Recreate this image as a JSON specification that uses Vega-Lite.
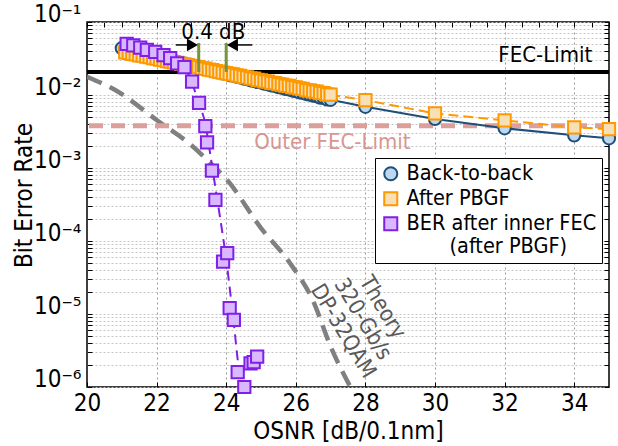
{
  "$schema": "https://vega.github.io/schema/vega-lite/v6.json",
  "width": 522,
  "height": 365,
  "autosize": {"type": "none"},
  "padding": {"left": 87, "top": 22, "right": 9, "bottom": 59},
  "background": "white",
  "config": {
    "font": "DejaVu Sans Condensed, DejaVu Sans",
    "view": {"stroke": "black", "strokeWidth": 1.5},
    "axis": {"labelColor": "black", "titleColor": "black", "titleFontWeight": "normal", "tickColor": "black", "labelOverlap": false, "labelFlush": false, "domain": false}
  },
  "datasets": {
    "pts": [
      {"s": "Back-to-back", "x": 21.0, "y": 0.0437}, {"s": "Back-to-back", "x": 21.1, "y": 0.0424}, {"s": "Back-to-back", "x": 21.2, "y": 0.0415}, {"s": "Back-to-back", "x": 21.3, "y": 0.0402}, {"s": "Back-to-back", "x": 21.4, "y": 0.0393}, {"s": "Back-to-back", "x": 21.5, "y": 0.038}, {"s": "Back-to-back", "x": 21.6, "y": 0.0372}, {"s": "Back-to-back", "x": 21.7, "y": 0.036}, {"s": "Back-to-back", "x": 21.8, "y": 0.0352}, {"s": "Back-to-back", "x": 21.9, "y": 0.0341},
      {"s": "Back-to-back", "x": 22.0, "y": 0.0334}, {"s": "Back-to-back", "x": 22.1, "y": 0.0323}, {"s": "Back-to-back", "x": 22.2, "y": 0.0316}, {"s": "Back-to-back", "x": 22.3, "y": 0.0306}, {"s": "Back-to-back", "x": 22.4, "y": 0.0299}, {"s": "Back-to-back", "x": 22.5, "y": 0.029}, {"s": "Back-to-back", "x": 22.6, "y": 0.0284}, {"s": "Back-to-back", "x": 22.7, "y": 0.0274}, {"s": "Back-to-back", "x": 22.8, "y": 0.0269}, {"s": "Back-to-back", "x": 22.9, "y": 0.026},
      {"s": "Back-to-back", "x": 23.0, "y": 0.0255}, {"s": "Back-to-back", "x": 23.1, "y": 0.0246}, {"s": "Back-to-back", "x": 23.2, "y": 0.0241}, {"s": "Back-to-back", "x": 23.3, "y": 0.0233}, {"s": "Back-to-back", "x": 23.4, "y": 0.0228}, {"s": "Back-to-back", "x": 23.5, "y": 0.0221}, {"s": "Back-to-back", "x": 23.6, "y": 0.0216}, {"s": "Back-to-back", "x": 23.7, "y": 0.0209}, {"s": "Back-to-back", "x": 23.8, "y": 0.0205}, {"s": "Back-to-back", "x": 23.9, "y": 0.0198},
      {"s": "Back-to-back", "x": 24.0, "y": 0.0194}, {"s": "Back-to-back", "x": 24.1, "y": 0.0187}, {"s": "Back-to-back", "x": 24.2, "y": 0.0184}, {"s": "Back-to-back", "x": 24.3, "y": 0.0178}, {"s": "Back-to-back", "x": 24.4, "y": 0.0174}, {"s": "Back-to-back", "x": 24.5, "y": 0.0168}, {"s": "Back-to-back", "x": 24.6, "y": 0.0165}, {"s": "Back-to-back", "x": 24.7, "y": 0.0159}, {"s": "Back-to-back", "x": 24.8, "y": 0.0156}, {"s": "Back-to-back", "x": 24.9, "y": 0.0151},
      {"s": "Back-to-back", "x": 25.0, "y": 0.0148}, {"s": "Back-to-back", "x": 25.1, "y": 0.0143}, {"s": "Back-to-back", "x": 25.2, "y": 0.014}, {"s": "Back-to-back", "x": 25.3, "y": 0.0135}, {"s": "Back-to-back", "x": 25.4, "y": 0.0133}, {"s": "Back-to-back", "x": 25.5, "y": 0.0128}, {"s": "Back-to-back", "x": 25.6, "y": 0.0126}, {"s": "Back-to-back", "x": 25.7, "y": 0.0121}, {"s": "Back-to-back", "x": 25.8, "y": 0.0119}, {"s": "Back-to-back", "x": 25.9, "y": 0.0115},
      {"s": "Back-to-back", "x": 26.0, "y": 0.0113}, {"s": "Back-to-back", "x": 26.1, "y": 0.0109}, {"s": "Back-to-back", "x": 26.2, "y": 0.0107}, {"s": "Back-to-back", "x": 26.3, "y": 0.0103}, {"s": "Back-to-back", "x": 26.4, "y": 0.0101}, {"s": "Back-to-back", "x": 26.5, "y": 0.0098}, {"s": "Back-to-back", "x": 26.6, "y": 0.0096}, {"s": "Back-to-back", "x": 26.7, "y": 0.0092}, {"s": "Back-to-back", "x": 26.8, "y": 0.0091}, {"s": "Back-to-back", "x": 26.9, "y": 0.0087},
      {"s": "Back-to-back", "x": 27.0, "y": 0.0086}, {"s": "Back-to-back", "x": 28, "y": 0.0069}, {"s": "Back-to-back", "x": 30, "y": 0.0047}, {"s": "Back-to-back", "x": 32, "y": 0.0035}, {"s": "Back-to-back", "x": 34, "y": 0.0028}, {"s": "Back-to-back", "x": 35, "y": 0.00255},
      {"s": "After PBGF", "x": 21.1, "y": 0.0385}, {"s": "After PBGF", "x": 21.2, "y": 0.0377}, {"s": "After PBGF", "x": 21.3, "y": 0.0367}, {"s": "After PBGF", "x": 21.4, "y": 0.0361}, {"s": "After PBGF", "x": 21.5, "y": 0.035}, {"s": "After PBGF", "x": 21.6, "y": 0.0345}, {"s": "After PBGF", "x": 21.7, "y": 0.0335}, {"s": "After PBGF", "x": 21.8, "y": 0.0329}, {"s": "After PBGF", "x": 21.9, "y": 0.032},
      {"s": "After PBGF", "x": 22.0, "y": 0.0315}, {"s": "After PBGF", "x": 22.1, "y": 0.0305}, {"s": "After PBGF", "x": 22.2, "y": 0.0301}, {"s": "After PBGF", "x": 22.3, "y": 0.0292}, {"s": "After PBGF", "x": 22.4, "y": 0.0287}, {"s": "After PBGF", "x": 22.5, "y": 0.0279}, {"s": "After PBGF", "x": 22.6, "y": 0.0275}, {"s": "After PBGF", "x": 22.7, "y": 0.0266}, {"s": "After PBGF", "x": 22.8, "y": 0.0263}, {"s": "After PBGF", "x": 22.9, "y": 0.0254},
      {"s": "After PBGF", "x": 23.0, "y": 0.0251}, {"s": "After PBGF", "x": 23.1, "y": 0.0243}, {"s": "After PBGF", "x": 23.2, "y": 0.024}, {"s": "After PBGF", "x": 23.3, "y": 0.0232}, {"s": "After PBGF", "x": 23.4, "y": 0.0229}, {"s": "After PBGF", "x": 23.5, "y": 0.0222}, {"s": "After PBGF", "x": 23.6, "y": 0.0219}, {"s": "After PBGF", "x": 23.7, "y": 0.0212}, {"s": "After PBGF", "x": 23.8, "y": 0.0209}, {"s": "After PBGF", "x": 23.9, "y": 0.0203},
      {"s": "After PBGF", "x": 24.0, "y": 0.02}, {"s": "After PBGF", "x": 24.1, "y": 0.0194}, {"s": "After PBGF", "x": 24.2, "y": 0.0191}, {"s": "After PBGF", "x": 24.3, "y": 0.0185}, {"s": "After PBGF", "x": 24.4, "y": 0.0183}, {"s": "After PBGF", "x": 24.5, "y": 0.0177}, {"s": "After PBGF", "x": 24.6, "y": 0.0174}, {"s": "After PBGF", "x": 24.7, "y": 0.0169}, {"s": "After PBGF", "x": 24.8, "y": 0.0167}, {"s": "After PBGF", "x": 24.9, "y": 0.0161},
      {"s": "After PBGF", "x": 25.0, "y": 0.0159}, {"s": "After PBGF", "x": 25.1, "y": 0.0154}, {"s": "After PBGF", "x": 25.2, "y": 0.0152}, {"s": "After PBGF", "x": 25.3, "y": 0.0147}, {"s": "After PBGF", "x": 25.4, "y": 0.0145}, {"s": "After PBGF", "x": 25.5, "y": 0.0141}, {"s": "After PBGF", "x": 25.6, "y": 0.0139}, {"s": "After PBGF", "x": 25.7, "y": 0.0134}, {"s": "After PBGF", "x": 25.8, "y": 0.0133}, {"s": "After PBGF", "x": 25.9, "y": 0.0128},
      {"s": "After PBGF", "x": 26.0, "y": 0.0127}, {"s": "After PBGF", "x": 26.1, "y": 0.0123}, {"s": "After PBGF", "x": 26.2, "y": 0.0121}, {"s": "After PBGF", "x": 26.3, "y": 0.0117}, {"s": "After PBGF", "x": 26.4, "y": 0.0116}, {"s": "After PBGF", "x": 26.5, "y": 0.0112}, {"s": "After PBGF", "x": 26.6, "y": 0.0111}, {"s": "After PBGF", "x": 26.7, "y": 0.0107}, {"s": "After PBGF", "x": 26.8, "y": 0.0106}, {"s": "After PBGF", "x": 26.9, "y": 0.0102},
      {"s": "After PBGF", "x": 27.0, "y": 0.0101}, {"s": "After PBGF", "x": 28, "y": 0.0085}, {"s": "After PBGF", "x": 30, "y": 0.0056}, {"s": "After PBGF", "x": 32, "y": 0.0045}, {"s": "After PBGF", "x": 34, "y": 0.0036}, {"s": "After PBGF", "x": 35, "y": 0.0034},
      {"s": "BER after inner FEC", "x": 21.14, "y": 0.05}, {"s": "BER after inner FEC", "x": 21.33, "y": 0.048}, {"s": "BER after inner FEC", "x": 21.53, "y": 0.0445}, {"s": "BER after inner FEC", "x": 21.72, "y": 0.0414}, {"s": "BER after inner FEC", "x": 21.96, "y": 0.039}, {"s": "BER after inner FEC", "x": 22.2, "y": 0.0353}, {"s": "BER after inner FEC", "x": 22.39, "y": 0.0319}, {"s": "BER after inner FEC", "x": 22.59, "y": 0.0272}, {"s": "BER after inner FEC", "x": 22.8, "y": 0.024},
      {"s": "BER after inner FEC", "x": 23.02, "y": 0.0152}, {"s": "BER after inner FEC", "x": 23.22, "y": 0.0078}, {"s": "BER after inner FEC", "x": 23.4, "y": 0.00376}, {"s": "BER after inner FEC", "x": 23.45, "y": 0.00224}, {"s": "BER after inner FEC", "x": 23.59, "y": 0.00092}, {"s": "BER after inner FEC", "x": 23.69, "y": 0.000365}, {"s": "BER after inner FEC", "x": 23.91, "y": 0.000052}, {"s": "BER after inner FEC", "x": 24.03, "y": 0.000068},
      {"s": "BER after inner FEC", "x": 24.1, "y": 0.000012}, {"s": "BER after inner FEC", "x": 24.22, "y": 0.0000083}, {"s": "BER after inner FEC", "x": 24.33, "y": 0.0000016}, {"s": "BER after inner FEC", "x": 24.52, "y": 0.000001}, {"s": "BER after inner FEC", "x": 24.7, "y": 0.0000021}, {"s": "BER after inner FEC", "x": 24.79, "y": 0.0000022}, {"s": "BER after inner FEC", "x": 24.89, "y": 0.0000026}
    ],
    "fit": [
      {"x": 21.14, "y": 0.05}, {"x": 21.5, "y": 0.045}, {"x": 21.9, "y": 0.0395}, {"x": 22.3, "y": 0.0335}, {"x": 22.6, "y": 0.0275}, {"x": 22.8, "y": 0.024}, {"x": 23.0, "y": 0.0155}, {"x": 23.2, "y": 0.008}, {"x": 23.4, "y": 0.004}, {"x": 23.52, "y": 0.0018}, {"x": 23.7, "y": 0.0005}, {"x": 23.88, "y": 0.00014}, {"x": 24.0, "y": 0.000056}, {"x": 24.2, "y": 0.0000089}, {"x": 24.41, "y": 0.00000126}, {"x": 24.46, "y": 0.000001}
    ],
    "theory": [
      {"x": 20, "y": 0.0178}, {"x": 20.81, "y": 0.0117}, {"x": 22, "y": 0.00455}, {"x": 23, "y": 0.00205}, {"x": 23.69, "y": 0.001}, {"x": 24, "y": 0.00071}, {"x": 25, "y": 0.00015}, {"x": 25.83, "y": 0.00005}, {"x": 26.5, "y": 0.000015}, {"x": 27, "y": 0.0000036}, {"x": 27.57, "y": 0.000001}
    ]
  },
  "layer": [
    {
      "layer": [
        {
          "data": {"name": "theory"},
          "mark": {"type": "line", "color": "#808080", "strokeWidth": 4.5, "strokeDash": [16, 9], "interpolate": "monotone", "clip": true},
          "encoding": {
            "x": {"field": "x", "type": "quantitative", "scale": {"domain": [20, 35], "nice": false, "zero": false},
              "axis": {"values": [20,20.5,21,21.5,22,22.5,23,23.5,24,24.5,25,25.5,26,26.5,27,27.5,28,28.5,29,29.5,30,30.5,31,31.5,32,32.5,33,33.5,34,34.5,35],
                "labelExpr": "datum.value % 2 === 0 ? datum.label : ''",
                "grid": true, "gridColor": "#9a9a9a", "gridDash": [2, 3],
                "gridOpacity": {"condition": {"test": "datum.value % 2 === 0 && datum.value > 20 && datum.value < 35", "value": 1}, "value": 0},
                "tickSize": -5, "labelFontSize": 24, "labelPadding": 9, "title": "OSNR [dB/0.1nm]", "titleFontSize": 24, "titlePadding": 4}},
            "y": {"field": "y", "type": "quantitative", "scale": {"type": "log", "domain": [0.000001, 0.1], "nice": false},
              "axis": {"values": [1e-6,2e-6,3e-6,4e-6,5e-6,6e-6,7e-6,8e-6,9e-6,1e-5,2e-5,3e-5,4e-5,5e-5,6e-5,7e-5,8e-5,9e-5,1e-4,2e-4,3e-4,4e-4,5e-4,6e-4,7e-4,8e-4,9e-4,1e-3,2e-3,3e-3,4e-3,5e-3,6e-3,7e-3,8e-3,9e-3,1e-2,2e-2,3e-2,4e-2,5e-2,6e-2,7e-2,8e-2,9e-2,0.1],
                "labelExpr": "abs(log(datum.value)/LN10 - round(log(datum.value)/LN10)) < 0.01 ? '10' + ['⁰','⁻¹','⁻²','⁻³','⁻⁴','⁻⁵','⁻⁶'][-round(log(datum.value)/LN10)] : ''",
                "grid": true, "gridColor": "#c4c4c4", "gridDash": [2, 2],
                "tickSize": -5, "labelFontSize": 24, "labelPadding": 11, "labelBaseline": "middle", "labelOffset": -8,
                "title": "Bit Error Rate", "titleFontSize": 24, "titleX": -63, "titleY": 173, "titleBaseline": "middle", "titleAlign": "center", "titleAngle": 270}}
          }
        },
        {
          "data": {"values": [{}]},
          "mark": {"type": "rule", "color": "#dc9f9b", "strokeWidth": 5, "strokeDash": [14, 8]},
          "encoding": {"y": {"datum": 0.0038}}
        },
        {
          "data": {"values": [{}]},
          "mark": {"type": "rule", "color": "black", "strokeWidth": 4},
          "encoding": {"y": {"datum": 0.0207}}
        },
        {
          "data": {"name": "pts"},
          "transform": [{"filter": "datum.s === 'Back-to-back'"}],
          "mark": {"type": "line", "color": "#1f4e79", "strokeWidth": 2},
          "encoding": {"x": {"field": "x", "type": "quantitative"}, "y": {"field": "y", "type": "quantitative"}}
        },
        {
          "data": {"name": "pts"},
          "transform": [{"filter": "datum.s === 'After PBGF'"}],
          "mark": {"type": "line", "color": "#ff9900", "strokeWidth": 2, "strokeDash": [10, 5]},
          "encoding": {"x": {"field": "x", "type": "quantitative"}, "y": {"field": "y", "type": "quantitative"}}
        },
        {
          "data": {"name": "fit"},
          "mark": {"type": "line", "color": "#7f1fe8", "strokeWidth": 2, "strokeDash": [10, 6], "interpolate": "monotone"},
          "encoding": {"x": {"field": "x", "type": "quantitative"}, "y": {"field": "y", "type": "quantitative"}}
        },
        {
          "data": {"name": "pts"},
          "mark": {"type": "point", "filled": true, "opacity": 1, "strokeWidth": 2, "size": 150},
          "encoding": {
            "x": {"field": "x", "type": "quantitative"},
            "y": {"field": "y", "type": "quantitative"},
            "shape": {"field": "s", "type": "nominal",
              "scale": {"domain": ["Back-to-back", "After PBGF", "BER after inner FEC"], "range": ["circle", "square", "square"]},
              "legend": {"orient": "none", "legendX": 288, "legendY": 136, "title": null, "labelFontSize": 21.5, "labelLimit": 400,
                "symbolSize": 170, "symbolStrokeWidth": 2, "padding": 5, "rowPadding": 2, "labelOffset": 5,
                "strokeColor": "black", "fillColor": "white",
                "labelExpr": "datum.value === 'BER after inner FEC' ? ['BER after inner FEC', '\u200b\u00a0\u00a0\u00a0\u00a0\u00a0\u00a0\u00a0(after PBGF)'] : datum.label",
                "encode": {"labels": {"update": {"fill": {"signal": "datum.value === 'Back-to-back' ? '#1f4e79' : datum.value === 'After PBGF' ? '#ff9900' : '#7030a0'"}}}}}},
            "fill": {"field": "s", "type": "nominal", "scale": {"domain": ["Back-to-back", "After PBGF", "BER after inner FEC"], "range": ["#bdd7ee", "#f8dfb5", "#d9b8ff"]}},
            "stroke": {"field": "s", "type": "nominal", "scale": {"domain": ["Back-to-back", "After PBGF", "BER after inner FEC"], "range": ["#1f4e79", "#ff9900", "#7f1fe8"]}}
          }
        },
        {
          "data": {"values": [{"x": 23.21, "y": 0.0207, "y2": 0.0515}, {"x": 24.0, "y": 0.0207, "y2": 0.0515}]},
          "mark": {"type": "rule", "color": "#77933c", "strokeWidth": 3},
          "encoding": {"x": {"field": "x", "type": "quantitative"}, "y": {"field": "y", "type": "quantitative"}, "y2": {"field": "y2"}}
        },
        {
          "data": {"values": [{"x": 22.55, "x2": 23.1, "y": 0.0485}, {"x": 24.1, "x2": 24.75, "y": 0.0485}]},
          "mark": {"type": "rule", "color": "black", "strokeWidth": 1.5},
          "encoding": {"x": {"field": "x", "type": "quantitative"}, "x2": {"field": "x2"}, "y": {"field": "y", "type": "quantitative"}}
        },
        {
          "data": {"values": [{"x": 23.03, "y": 0.0485}]},
          "mark": {"type": "point", "shape": "triangle-right", "filled": true, "color": "black", "opacity": 1, "size": 160},
          "encoding": {"x": {"field": "x", "type": "quantitative"}, "y": {"field": "y", "type": "quantitative"}}
        },
        {
          "data": {"values": [{"x": 24.18, "y": 0.0485}]},
          "mark": {"type": "point", "shape": "triangle-left", "filled": true, "color": "black", "opacity": 1, "size": 160},
          "encoding": {"x": {"field": "x", "type": "quantitative"}, "y": {"field": "y", "type": "quantitative"}}
        },
        {
          "data": {"values": [{"x": 23.63, "y": 0.0736, "t": "0.4 dB"}]},
          "mark": {"type": "text", "fontSize": 22, "color": "black", "align": "center", "baseline": "middle"},
          "encoding": {"x": {"field": "x", "type": "quantitative"}, "y": {"field": "y", "type": "quantitative"}, "text": {"field": "t"}}
        },
        {
          "data": {"values": [{"x": 33.17, "y": 0.0353, "t": "FEC-Limit"}]},
          "mark": {"type": "text", "fontSize": 22, "color": "black", "align": "center", "baseline": "middle"},
          "encoding": {"x": {"field": "x", "type": "quantitative"}, "y": {"field": "y", "type": "quantitative"}, "text": {"field": "t"}}
        },
        {
          "data": {"values": [{"x": 27.05, "y": 0.00229, "t": "Outer FEC-Limit"}]},
          "mark": {"type": "text", "fontSize": 22, "color": "#d99590", "align": "center", "baseline": "middle"},
          "encoding": {"x": {"field": "x", "type": "quantitative"}, "y": {"field": "y", "type": "quantitative"}, "text": {"field": "t"}}
        },
        {
          "data": {"values": [{"x": 28.5, "y": 0.0000124, "t": ["Theory", "320-Gb/s", "DP-32QAM"]}]},
          "mark": {"type": "text", "fontSize": 22, "color": "#595959", "align": "center", "baseline": "middle", "angle": 59, "lineHeight": 23},
          "encoding": {"x": {"field": "x", "type": "quantitative"}, "y": {"field": "y", "type": "quantitative"}, "text": {"field": "t"}}
        }
      ]
    },
    {
      "data": {"values": [{"x": 20, "y": 0.1}]},
      "mark": {"type": "point", "opacity": 0},
      "encoding": {
        "x": {"field": "x", "type": "quantitative", "axis": {"orient": "top", "values": [20,20.5,21,21.5,22,22.5,23,23.5,24,24.5,25,25.5,26,26.5,27,27.5,28,28.5,29,29.5,30,30.5,31,31.5,32,32.5,33,33.5,34,34.5,35], "labels": false, "grid": false, "tickSize": -5, "title": null}},
        "y": {"field": "y", "type": "quantitative", "axis": {"orient": "right", "values": [1e-6,2e-6,3e-6,4e-6,5e-6,6e-6,7e-6,8e-6,9e-6,1e-5,2e-5,3e-5,4e-5,5e-5,6e-5,7e-5,8e-5,9e-5,1e-4,2e-4,3e-4,4e-4,5e-4,6e-4,7e-4,8e-4,9e-4,1e-3,2e-3,3e-3,4e-3,5e-3,6e-3,7e-3,8e-3,9e-3,1e-2,2e-2,3e-2,4e-2,5e-2,6e-2,7e-2,8e-2,9e-2,0.1], "labels": false, "grid": false, "tickSize": -5, "title": null}}
      }
    }
  ],
  "resolve": {"axis": {"x": "independent", "y": "independent"}}
}
